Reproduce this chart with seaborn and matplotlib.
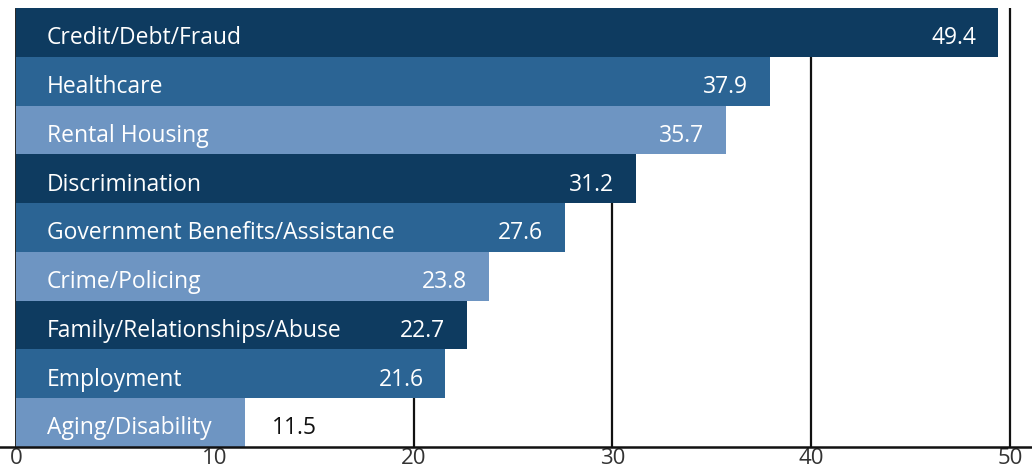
import matplotlib
matplotlib.use("Agg")
import matplotlib.pyplot as plt
import seaborn as sns
import pandas as pd

categories = ["Credit/Debt/Fraud", "Healthcare", "Rental Housing", "Discrimination",
              "Government Benefits/Assistance", "Crime/Policing",
              "Family/Relationships/Abuse", "Employment", "Aging/Disability"]
values = [49.4, 37.9, 35.7, 31.2, 27.6, 23.8, 22.7, 21.6, 11.5]
tick_values = [0, 10, 20, 30, 40, 50]

sns.set_theme(style="white")
plt.rcParams['font.family'] = ['Open Sans', 'DejaVu Sans']

colors = ["#0e3b60", "#2b6494", "#6e95c2"] * 3
df = pd.DataFrame({"category": categories, "value": values})

fig = plt.figure(figsize=(10.32, 4.75), dpi=100)
ax = fig.add_axes([0, 0.059, 1, 0.924])

for t in tick_values[1:]:
    ax.axvline(t, color="#111111", lw=1.6, zorder=0)
ax.axvline(0, color="#111111", lw=2.0, zorder=0.5)

sns.barplot(data=df, y="category", x="value", hue="category", palette=colors,
            orient="h", width=1.0, legend=False, ax=ax, saturation=1,
            linewidth=0, zorder=1)

for i, (c, v) in enumerate(zip(categories, values)):
    ax.text(1.55, i + 0.12, c, color="white", fontsize=16.5, va="center", ha="left", zorder=3)
    if v > 15:
        ax.text(v - 1.1, i + 0.12, f"{v}", color="white", fontsize=16.5, va="center", ha="right", zorder=3)
    else:
        ax.text(v + 1.35, i + 0.12, f"{v}", color="#111111", fontsize=16.5, va="center", ha="left", zorder=3)

ax.set_xlim(-0.805, 51.1)
ax.set_ylim(8.5, -0.5)
ax.set_xticks(tick_values)
ax.set_xticklabels([str(t) for t in tick_values], fontsize=16, color="#333333")
ax.set_yticks([])
ax.set_xlabel("")
ax.set_ylabel("")
for s in ["top", "right", "left"]:
    ax.spines[s].set_visible(False)
ax.spines["bottom"].set_color("#111111")
ax.spines["bottom"].set_linewidth(1.8)
ax.tick_params(axis="x", length=0, pad=1)

fig.savefig("out.png", dpi=100)
